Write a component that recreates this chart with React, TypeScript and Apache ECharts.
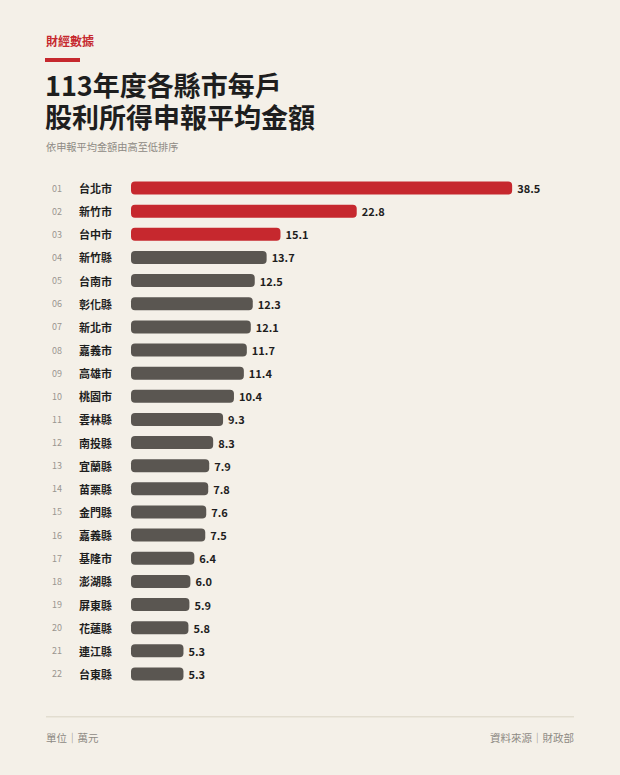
import { useEffect, useRef } from "react";
import * as echarts from "echarts";

const ranks = ["01", "02", "03", "04", "05", "06", "07", "08", "09", "10", "11", "12", "13", "14", "15", "16", "17", "18", "19", "20", "21", "22"];
const counties = ["台北市", "新竹市", "台中市", "新竹縣", "台南市", "彰化縣", "新北市", "嘉義市", "高雄市", "桃園市", "雲林縣", "南投縣", "宜蘭縣", "苗栗縣", "金門縣", "嘉義縣", "基隆市", "澎湖縣", "屏東縣", "花蓮縣", "連江縣", "台東縣"];
const amounts = [38.5, 22.8, 15.1, 13.7, 12.5, 12.3, 12.1, 11.7, 11.4, 10.4, 9.3, 8.3, 7.9, 7.8, 7.6, 7.5, 6.4, 6.0, 5.9, 5.8, 5.3, 5.3];
const highlightCount = 3;

const font = "'Noto Sans CJK TC', 'Noto Sans', sans-serif";
const bg = "#f4f0e8";
const red = "#c6282e";
const grey = "#5a5651";

export default function App() {
  const ref = useRef<HTMLDivElement | null>(null);

  useEffect(() => {
    if (!ref.current) {
      return;
    }
    document.body.style.margin = "0";
    document.body.style.background = bg;

    const chart = echarts.init(ref.current, null, { renderer: "svg" });

    chart.setOption({
      animation: false,
      backgroundColor: bg,
      textStyle: { fontFamily: font },
      grid: { left: 131, right: 93, top: 176.5, height: 509 },
      xAxis: {
        type: "value",
        min: 0,
        max: 40,
        show: false
      },
      yAxis: {
        type: "category",
        inverse: true,
        data: counties,
        axisLine: { show: false },
        axisTick: { show: false },
        axisLabel: {
          align: "left",
          margin: 79,
          formatter: (value: string, index: number) => `{rank|${ranks[index]}}{name|${value}}`,
          rich: {
            rank: { width: 27, fontSize: 9, color: "#9a9690", fontFamily: font },
            name: { fontSize: 11, fontWeight: "bold", color: "#1e1e1e", fontFamily: font }
          }
        }
      },
      series: [
        {
          type: "bar",
          data: amounts,
          barWidth: 13,
          itemStyle: {
            borderRadius: 4,
            color: (p: { dataIndex: number }) => (p.dataIndex < highlightCount ? red : grey)
          },
          label: {
            show: true,
            position: "right",
            distance: 5,
            fontSize: 11,
            fontWeight: "bold",
            color: "#1e1e1e",
            fontFamily: font,
            formatter: (p: { value: number }) => p.value.toFixed(1)
          }
        }
      ],
      graphic: [
        {
          type: "text",
          left: 46,
          top: 34,
          style: { text: "財經數據", fontSize: 12, fontWeight: "bold", fill: red, fontFamily: font }
        },
        {
          type: "rect",
          shape: { x: 45, y: 58, width: 35, height: 4 },
          style: { fill: red }
        },
        {
          type: "text",
          left: 45,
          top: 71,
          style: { text: "113年度各縣市每戶", fontSize: 27, fontWeight: "bold", fill: "#1e1e1e", fontFamily: font }
        },
        {
          type: "text",
          left: 45,
          top: 103,
          style: { text: "股利所得申報平均金額", fontSize: 27, fontWeight: "bold", fill: "#1e1e1e", fontFamily: font }
        },
        {
          type: "text",
          left: 46,
          top: 141,
          style: { text: "依申報平均金額由高至低排序", fontSize: 10.2, fill: "#8e8a84", fontFamily: font }
        },
        {
          type: "rect",
          shape: { x: 46, y: 716, width: 528, height: 1.5 },
          style: { fill: "#e2ddd0" }
        },
        {
          type: "text",
          left: 46,
          top: 732,
          style: { text: "單位｜萬元", fontSize: 10.5, fill: "#8e8a84", fontFamily: font }
        },
        {
          type: "text",
          right: 46,
          top: 732,
          style: { text: "資料來源｜財政部", fontSize: 10.5, fill: "#8e8a84", fontFamily: font }
        }
      ]
    });

    return () => {
      chart.dispose();
    };
  }, []);

  return <div ref={ref} style={{ width: 620, height: 775 }} />;
}
